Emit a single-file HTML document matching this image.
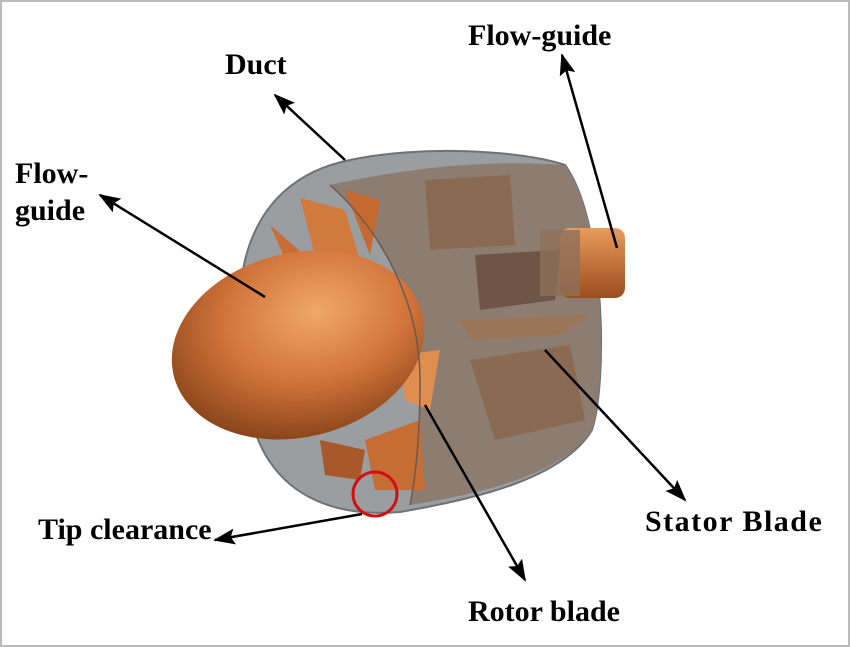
<!DOCTYPE html>
<html><head><style>
html,body{margin:0;padding:0;background:#fff;}
.w{position:relative;width:850px;height:647px;overflow:hidden;}
.t{position:absolute;font-family:"Liberation Serif",serif;font-weight:bold;font-size:30px;color:#000;line-height:37px;white-space:nowrap;}
</style></head><body><div class="w">
<svg width="850" height="647" viewBox="0 0 850 647" style="position:absolute;left:0;top:0">
<defs>
<radialGradient id="o" cx="0.6" cy="0.35" r="0.75">
<stop offset="0" stop-color="#f0a868"/><stop offset="0.5" stop-color="#d0733a"/><stop offset="1" stop-color="#7a3a12"/></radialGradient>
<linearGradient id="h" x1="0" y1="0" x2="0" y2="1"><stop offset="0" stop-color="#e99a5c"/><stop offset="1" stop-color="#9a4e1e"/></linearGradient>
<marker id="a" markerWidth="22" markerHeight="16" refX="20" refY="8" orient="auto" markerUnits="userSpaceOnUse"><path d="M0,0 L22,8 L0,16 L4,8 Z" fill="#000"/></marker>
</defs>
<rect x="1" y="1" width="848" height="645" fill="#fff" stroke="#bbb" stroke-width="2"/>
<path d="M350,160 C420,145 520,150 565,165 C605,220 608,380 592,430 C562,480 470,500 400,512 C330,518 290,492 270,462 C240,420 232,320 245,260 C260,200 300,170 350,160 Z" fill="#9a9ea0" stroke="#6e7274" stroke-width="2"/>
<path d="M330,185 C380,230 420,300 420,380 C420,440 415,480 410,505 C470,495 560,478 592,430 C608,380 605,220 565,165 C500,160 420,165 330,185 Z" fill="#8d7c70"/>
<path d="M425,180 L510,175 L515,245 L430,250 Z" fill="#8a6a52"/>
<path d="M475,255 L560,250 L555,300 L480,310 Z" fill="#6e5545"/>
<path d="M470,360 L570,345 L585,420 L495,440 Z" fill="#8a6a52"/>
<path d="M460,320 L590,315 L560,335 L470,340 Z" fill="#9a7558"/>
<rect x="560" y="228" width="65" height="70" rx="10" fill="url(#h)"/>
<rect x="540" y="230" width="40" height="66" fill="#8d6f5a" opacity="0.8"/>
<path d="M300,198 L345,210 L360,260 L320,275 Z" fill="#d07a3e"/>
<path d="M270,225 L310,260 L290,270 Z" fill="#c86e34"/>
<path d="M345,190 L380,200 L370,255 Z" fill="#c46a30"/>
<path d="M400,355 L440,350 L430,410 L405,400 Z" fill="#e08e50"/>
<path d="M365,440 L420,420 L425,490 L375,490 Z" fill="#c66d33"/>
<path d="M320,440 L365,450 L360,480 L325,475 Z" fill="#a8582a"/>
<ellipse cx="298" cy="345" rx="128" ry="92" transform="rotate(-14 298 345)" fill="url(#o)"/>
<path d="M330,185 C380,230 420,300 420,380 C420,440 415,480 410,505" fill="none" stroke="#6a5a50" stroke-width="1.5"/>
<circle cx="375" cy="494" r="22" fill="none" stroke="#d01010" stroke-width="3"/>
<g stroke="#000" stroke-width="2.5" fill="none" marker-end="url(#a)">
<line x1="345" y1="160" x2="275" y2="95"/>
<line x1="617" y1="248" x2="562" y2="55"/>
<line x1="265" y1="297" x2="100" y2="195"/>
<line x1="362" y1="514" x2="215" y2="540"/>
<line x1="425" y1="405" x2="525" y2="580"/>
<line x1="545" y1="350" x2="685" y2="500"/>
</g>
</svg>
<div class="t" style="left:225px;top:46px">Duct</div>
<div class="t" style="left:468px;top:17px">Flow-guide</div>
<div class="t" style="left:15px;top:155px">Flow-<br>guide</div>
<div class="t" style="left:38px;top:511px">Tip clearance</div>
<div class="t" style="left:645px;top:503px;letter-spacing:1.5px">Stator Blade</div>
<div class="t" style="left:468px;top:593px">Rotor blade</div>
</div></body></html>
